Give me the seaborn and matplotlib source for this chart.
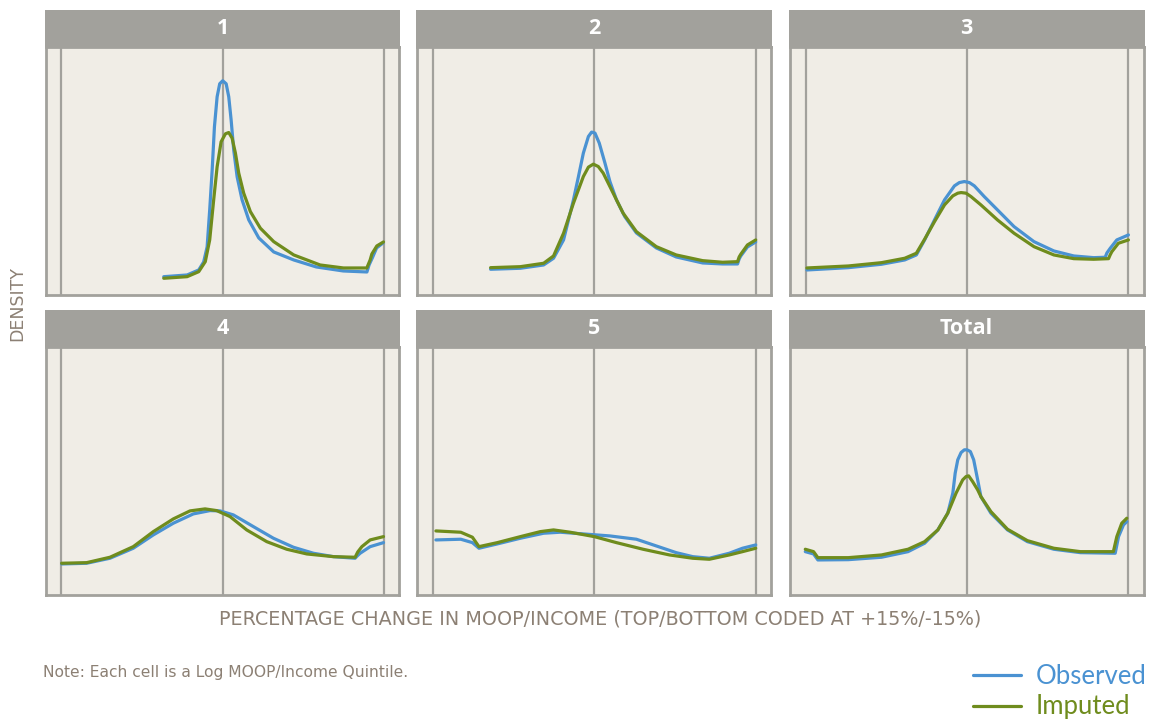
import numpy as np
import pandas as pd
import matplotlib
matplotlib.use("Agg")
import matplotlib.pyplot as plt
from matplotlib.patches import Rectangle
from matplotlib.lines import Line2D
import seaborn as sns

# ---------------- data ----------------
panels = ["1", "2", "3", "4", "5", "Total"]
series = ["Observed", "Imputed"]

p1_obs_x = [-5.48, -3.31, -2.23, -1.77, -1.45, -1.21, -0.98, -0.77, -0.52, -0.28, 0.0, 0.32, 0.56, 0.78, 1.02, 1.34, 1.80, 2.42, 3.35, 4.74, 6.6, 8.7, 11.2, 13.4, 13.6, 13.9, 14.3, 14.9]
p1_obs_y = [0.0183, 0.020, 0.025, 0.033, 0.048, 0.085, 0.125, 0.168, 0.198, 0.211, 0.214, 0.211, 0.198, 0.175, 0.145, 0.118, 0.095, 0.075, 0.057, 0.043, 0.035, 0.028, 0.024, 0.023, 0.030, 0.037, 0.047, 0.052]
p1_imp_x = [-5.48, -3.31, -2.23, -1.62, -1.21, -0.84, -0.52, -0.15, 0.25, 0.56, 0.87, 1.18, 1.49, 1.95, 2.57, 3.5, 4.74, 6.6, 9.05, 11.22, 13.39, 13.7, 13.86, 14.32, 14.94]
p1_imp_y = [0.0167, 0.0183, 0.0233, 0.0333, 0.055, 0.095, 0.128, 0.153, 0.161, 0.1623, 0.1567, 0.1417, 0.1217, 0.1017, 0.0833, 0.0667, 0.0533, 0.040, 0.030, 0.027, 0.027, 0.035, 0.041, 0.049, 0.053]

p2_obs_x = [-9.64, -6.87, -4.71, -3.79, -2.86, -1.94, -1.48, -1.02, -0.55, -0.25, 0.06, 0.46, 0.99, 1.45, 2.06, 2.83, 3.91, 5.76, 7.61, 10.07, 11.92, 13.31, 13.46, 13.61, 14.23, 15.0]
p2_obs_y = [0.0257, 0.0267, 0.030, 0.0367, 0.055, 0.095, 0.118, 0.1417, 0.1583, 0.1627, 0.1617, 0.1517, 0.1317, 0.1133, 0.095, 0.0783, 0.062, 0.047, 0.038, 0.032, 0.031, 0.031, 0.036, 0.039, 0.048, 0.053]
p2_imp_x = [-9.64, -6.87, -4.71, -3.79, -2.86, -1.94, -1.02, -0.55, -0.09, 0.37, 0.83, 1.45, 2.06, 2.68, 3.91, 5.76, 7.61, 10.07, 11.92, 13.31, 13.46, 13.61, 14.23, 15.0]
p2_imp_y = [0.0273, 0.0283, 0.0317, 0.039, 0.0617, 0.0917, 0.1183, 0.1277, 0.1307, 0.1283, 0.1217, 0.1083, 0.095, 0.0817, 0.0633, 0.0483, 0.040, 0.0343, 0.0327, 0.0333, 0.038, 0.0407, 0.050, 0.055]

p3_obs_x = [-14.88, -11.03, -7.95, -5.79, -4.71, -3.94, -3.02, -2.09, -1.17, -0.71, -0.25, 0.22, 0.68, 1.60, 2.83, 4.37, 6.22, 8.07, 9.92, 11.77, 12.84, 13.0, 13.31, 13.92, 15.0]
p3_obs_y = [0.025, 0.0273, 0.0307, 0.035, 0.040, 0.055, 0.075, 0.095, 0.109, 0.1123, 0.1133, 0.1123, 0.109, 0.0983, 0.085, 0.0683, 0.0533, 0.044, 0.039, 0.0373, 0.0377, 0.042, 0.0467, 0.055, 0.060]
p3_imp_x = [-14.88, -11.03, -7.95, -5.79, -4.71, -3.94, -3.02, -2.09, -1.32, -0.86, -0.55, -0.09, 0.37, 1.29, 2.83, 4.37, 6.22, 8.07, 9.92, 11.77, 13.15, 13.3, 13.46, 14.07, 15.0]
p3_imp_y = [0.027, 0.029, 0.0323, 0.0367, 0.0417, 0.0557, 0.0733, 0.090, 0.099, 0.1017, 0.1023, 0.1017, 0.0983, 0.090, 0.075, 0.0617, 0.0483, 0.040, 0.0363, 0.0357, 0.0363, 0.040, 0.0433, 0.0517, 0.055]

p4_obs_x = [-14.97, -12.65, -10.48, -8.31, -6.45, -4.59, -2.73, -1.18, -0.25, 0.99, 2.85, 4.71, 6.57, 8.43, 10.29, 12.3, 12.5, 12.77, 13.7, 14.94]
p4_obs_y = [0.031, 0.0317, 0.0367, 0.0467, 0.060, 0.0717, 0.081, 0.0843, 0.084, 0.080, 0.0683, 0.0567, 0.0477, 0.0417, 0.0383, 0.0367, 0.039, 0.0417, 0.0483, 0.0523]
p4_imp_x = [-14.97, -12.65, -10.48, -8.31, -6.45, -4.59, -3.04, -1.64, -0.56, 0.68, 2.23, 4.09, 5.95, 7.81, 10.29, 12.3, 12.55, 12.93, 13.7, 14.94]
p4_imp_y = [0.0317, 0.0323, 0.0377, 0.0483, 0.0633, 0.076, 0.084, 0.086, 0.0843, 0.0783, 0.065, 0.0533, 0.0457, 0.041, 0.0383, 0.0377, 0.043, 0.0483, 0.055, 0.0583]

p5_obs_x = [-14.72, -12.41, -11.33, -10.72, -9.02, -6.87, -4.71, -3.17, -1.02, 1.45, 3.91, 5.76, 7.61, 9.15, 10.69, 12.54, 13.77, 15.0]
p5_obs_y = [0.055, 0.0557, 0.0523, 0.0467, 0.051, 0.0567, 0.0617, 0.0627, 0.061, 0.059, 0.0557, 0.049, 0.0423, 0.0383, 0.0367, 0.0417, 0.0467, 0.050]
p5_imp_x = [-14.72, -12.41, -11.33, -10.72, -9.02, -6.87, -5.02, -3.79, -2.25, 0.0, 2.06, 4.53, 6.99, 9.15, 10.69, 12.54, 13.77, 15.0]
p5_imp_y = [0.064, 0.0627, 0.0577, 0.0483, 0.0523, 0.0583, 0.0633, 0.065, 0.0627, 0.0583, 0.0523, 0.0457, 0.040, 0.0367, 0.0357, 0.040, 0.0433, 0.0467]

tot_obs_x = [-15.03, -14.26, -13.86, -11.03, -7.95, -5.48, -3.94, -2.71, -1.79, -1.32, -1.1, -0.86, -0.55, -0.25, 0.0, 0.31, 0.62, 0.99, 1.29, 2.22, 3.76, 5.61, 8.07, 10.53, 13.77, 14.08, 14.54, 14.85]
tot_obs_y = [0.0433, 0.041, 0.035, 0.0353, 0.0377, 0.0433, 0.0517, 0.065, 0.0817, 0.1017, 0.1217, 0.135, 0.1423, 0.145, 0.145, 0.1433, 0.135, 0.115, 0.0983, 0.0817, 0.065, 0.0533, 0.0457, 0.0423, 0.0417, 0.0583, 0.070, 0.0733]
tot_imp_x = [-15.03, -14.26, -13.86, -11.03, -7.95, -5.48, -3.94, -2.71, -1.79, -1.02, -0.4, -0.09, 0.15, 0.52, 0.99, 1.29, 2.22, 3.76, 5.61, 8.07, 10.53, 13.6, 13.92, 14.38, 14.85]
tot_imp_y = [0.0457, 0.0433, 0.0373, 0.0373, 0.040, 0.0457, 0.0533, 0.065, 0.0817, 0.1017, 0.115, 0.1183, 0.119, 0.1133, 0.105, 0.0983, 0.0833, 0.0657, 0.0543, 0.0467, 0.0433, 0.0433, 0.0583, 0.0717, 0.0767]

ref_lines = [-15, 0, 15]

# ---------------- assemble long table ----------------
raw = {
    "1": ((p1_obs_x, p1_obs_y), (p1_imp_x, p1_imp_y)),
    "2": ((p2_obs_x, p2_obs_y), (p2_imp_x, p2_imp_y)),
    "3": ((p3_obs_x, p3_obs_y), (p3_imp_x, p3_imp_y)),
    "4": ((p4_obs_x, p4_obs_y), (p4_imp_x, p4_imp_y)),
    "5": ((p5_obs_x, p5_obs_y), (p5_imp_x, p5_imp_y)),
    "Total": ((tot_obs_x, tot_obs_y), (tot_imp_x, tot_imp_y)),
}
frames = []
for p in panels:
    for s, (xs, ys) in zip(series, raw[p]):
        frames.append(pd.DataFrame({"panel": p, "series": s, "x": xs, "density": ys}))
df = pd.concat(frames, ignore_index=True)

# ---------------- style ----------------
BLUE = "#4a92d2"
GREEN = "#6f8c1d"
GRAY = "#a2a19c"
BG = "#f0ede6"
TXT = "#8c8074"

sns.set_theme(style="white")
plt.rcParams["font.family"] = ["DejaVu Sans"]

W, H = 1149, 723
g = sns.FacetGrid(df, col="panel", col_wrap=3, col_order=panels, sharex=True, sharey=True,
                  height=3, aspect=1.2)
g.figure.set_size_inches(W / 100, H / 100)
g.figure.set_dpi(100)

col_left = [45.7, 417.3, 790.0]
col_w = 353.5
row_top = [46.7, 346.7]
plot_h = 248.3
header_h = 36.7

for i, p in enumerate(panels):
    ax = g.axes_dict[p]
    r, c = divmod(i, 3)
    ax.set_position([col_left[c] / W, 1 - (row_top[r] + plot_h) / H, col_w / W, plot_h / H])
    ax.set_facecolor(BG)
    sub = df[df.panel == p]
    for s, col in zip(series, [BLUE, GREEN]):
        sns.lineplot(data=sub[sub.series == s], x="x", y="density", ax=ax, color=col,
                     lw=2.3, sort=False, estimator=None, zorder=3 if s == "Imputed" else 2.5)
    for xv in ref_lines:
        if p == "Total" and xv == -15:
            continue
        ax.axvline(xv, color=GRAY, lw=1.6, zorder=1)
    ax.set_xlim(-16.45, 16.4)
    ax.set_ylim(0, 0.248)
    ax.set_xticks([])
    ax.set_yticks([])
    ax.set_xlabel("")
    ax.set_ylabel("")
    ax.set_title("")
    for sp in ax.spines.values():
        sp.set_visible(True)
        sp.set_color(GRAY)
        sp.set_linewidth(2)
    hh = header_h / plot_h
    ax.add_patch(Rectangle((-0.003, 1.0), 1.006, hh, transform=ax.transAxes, facecolor=GRAY,
                           edgecolor="none", clip_on=False, zorder=5))
    ax.text(0.5, 1 + hh / 2, p, transform=ax.transAxes, ha="center", va="center",
            color="white", fontsize=15.5, fontweight="bold", zorder=6,
            family=["Open Sans", "DejaVu Sans"])

fig = g.figure
fig.text(17 / W, 1 - 303 / H, "DENSITY", rotation=90, ha="center", va="center",
         color=TXT, fontsize=12.5, family=["DejaVu Sans"])
fig.text(600 / W, 1 - 619 / H, "PERCENTAGE CHANGE IN MOOP/INCOME (TOP/BOTTOM CODED AT +15%/-15%)",
         ha="center", va="center", color=TXT, fontsize=13.8, family=["DejaVu Sans"])
fig.text(43 / W, 1 - 672 / H, "Note: Each cell is a Log MOOP/Income Quintile.", ha="left", va="center",
         color=TXT, fontsize=11.2, family=["DejaVu Sans"])

# legend (manual placement to match the reference)
for s, col, yl, yb in [("Observed", BLUE, 675, 684), ("Imputed", GREEN, 706, 714)]:
    fig.add_artist(Line2D([973 / W, 1021 / W], [1 - yl / H, 1 - yl / H], color=col, lw=2.3))
    fig.text(1036 / W, 1 - yb / H, s, ha="left", va="baseline", color=col,
             fontsize=18.5, family=["Lato", "DejaVu Sans"])

fig.savefig("out.png", dpi=100, facecolor="white")
